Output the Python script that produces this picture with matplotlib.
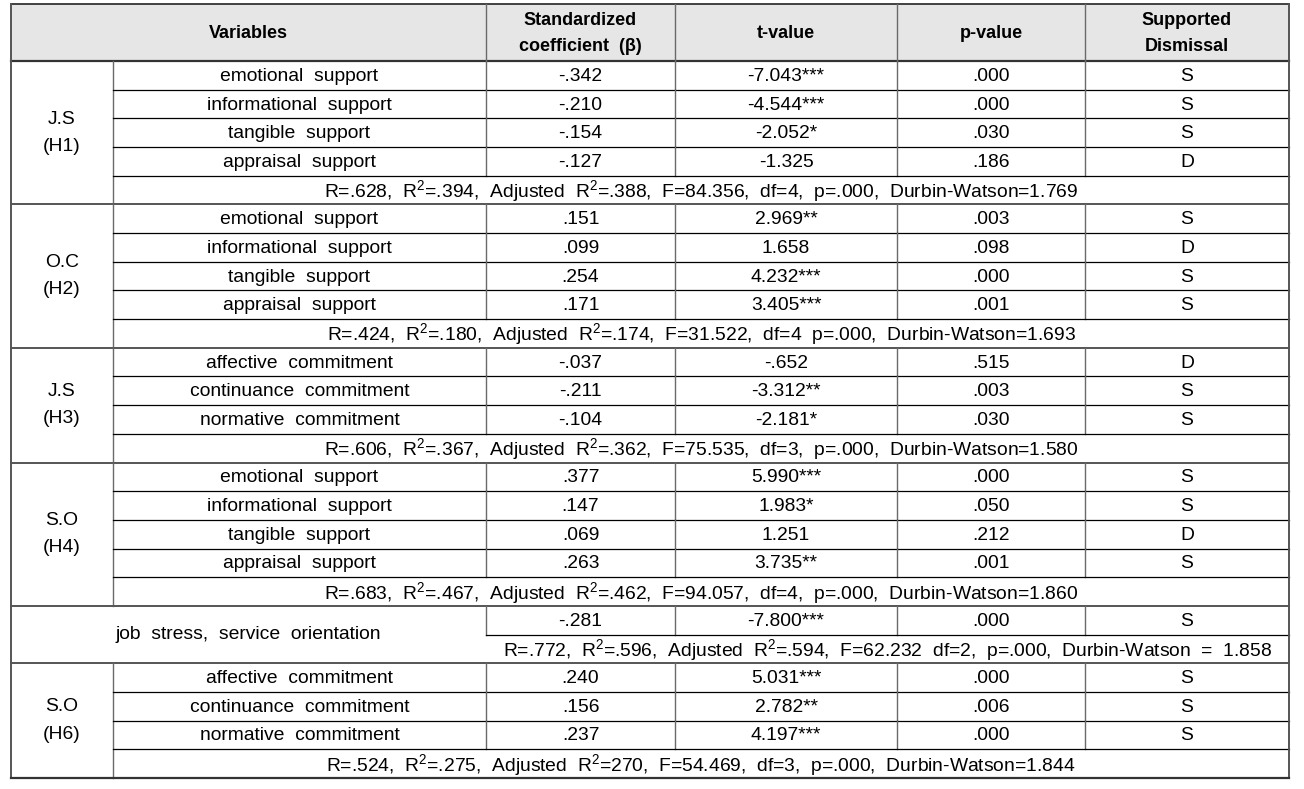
import matplotlib
matplotlib.use("Agg")
import matplotlib.pyplot as plt
from matplotlib.patches import Rectangle

plt.rcParams['font.family'] = ['Liberation Sans', 'DejaVu Sans']
plt.rcParams['mathtext.fontset'] = 'custom'
plt.rcParams['mathtext.rm'] = 'Liberation Sans'
plt.rcParams['mathtext.default'] = 'regular'

headers = ["Variables", "Standardized\ncoefficient  (β)", "t-value", "p-value",
           "Supported\nDismissal"]

group_labels = ["J.S\n(H1)", "O.C\n(H2)", "J.S\n(H3)", "S.O\n(H4)",
                "job  stress,  service  orientation", "S.O\n(H6)"]

variables = [
    ["emotional  support", "informational  support", "tangible  support", "appraisal  support"],
    ["emotional  support", "informational  support", "tangible  support", "appraisal  support"],
    ["affective  commitment", "continuance  commitment", "normative  commitment"],
    ["emotional  support", "informational  support", "tangible  support", "appraisal  support"],
    [""],
    ["affective  commitment", "continuance  commitment", "normative  commitment"],
]

coef = [
    ["-.342", "-.210", "-.154", "-.127"],
    [".151", ".099", ".254", ".171"],
    ["-.037", "-.211", "-.104"],
    [".377", ".147", ".069", ".263"],
    ["-.281"],
    [".240", ".156", ".237"],
]

t_values = [
    ["-7.043***", "-4.544***", "-2.052*", "-1.325"],
    ["2.969**", "1.658", "4.232***", "3.405***"],
    ["-.652", "-3.312**", "-2.181*"],
    ["5.990***", "1.983*", "1.251", "3.735**"],
    ["-7.800***"],
    ["5.031***", "2.782**", "4.197***"],
]

p_values = [
    [".000", ".000", ".030", ".186"],
    [".003", ".098", ".000", ".001"],
    [".515", ".003", ".030"],
    [".000", ".050", ".212", ".001"],
    [".000"],
    [".000", ".006", ".000"],
]

decisions = [
    ["S", "S", "S", "D"],
    ["S", "D", "S", "S"],
    ["D", "S", "S"],
    ["S", "S", "D", "S"],
    ["S"],
    ["S", "S", "S"],
]

R2 = "R$^2$"
stats = [
    f"R=.628,  {R2}=.394,  Adjusted  {R2}=.388,  F=84.356,  df=4,  p=.000,  Durbin-Watson=1.769",
    f"R=.424,  {R2}=.180,  Adjusted  {R2}=.174,  F=31.522,  df=4  p=.000,  Durbin-Watson=1.693",
    f"R=.606,  {R2}=.367,  Adjusted  {R2}=.362,  F=75.535,  df=3,  p=.000,  Durbin-Watson=1.580",
    f"R=.683,  {R2}=.467,  Adjusted  {R2}=.462,  F=94.057,  df=4,  p=.000,  Durbin-Watson=1.860",
    f"R=.772,  {R2}=.596,  Adjusted  {R2}=.594,  F=62.232  df=2,  p=.000,  Durbin-Watson  =  1.858",
    f"R=.524,  {R2}=.275,  Adjusted  {R2}=270,  F=54.469,  df=3,  p=.000,  Durbin-Watson=1.844",
]

# layout (pixels)
W, H = 1304, 789
cols = [11, 113, 486, 675, 897, 1085, 1289]
top, head_bot, bottom = 4, 61, 778
n_rows = sum(len(v) + 1 for v in variables)
rh = (bottom - head_bot) / n_rows
FS = 13.9
HFS = 13
GRID = '#6a6a6a'

fig = plt.figure(figsize=(W / 100, H / 100), dpi=100)
ax = fig.add_axes([0, 0, 1, 1])
ax.set_xlim(0, W)
ax.set_ylim(H, 0)
ax.axis('off')

# header
ax.add_patch(Rectangle((cols[0], top), cols[-1] - cols[0], head_bot - top,
                       facecolor='#e6e6e6', edgecolor='none', zorder=0))
hx = [(cols[0] + cols[2]) / 2] + [(cols[i] + cols[i + 1]) / 2 for i in range(2, 6)]
for x, lab in zip(hx, headers):
    ax.text(x, (top + head_bot) / 2 + 1, lab, ha='center', va='center', fontsize=HFS,
            fontweight='bold', linespacing=1.75)
ax.plot([cols[0], cols[-1]], [top, top], color='#333333', lw=1.3)
ax.plot([cols[0], cols[-1]], [head_bot, head_bot], color='#333333', lw=1.6)
for x in cols[2:-1]:
    ax.plot([x, x], [top, head_bot], color=GRID, lw=1)

row = 0
for g, label in enumerate(group_labels):
    g_top = head_bot + row * rh
    n = len(variables[g])
    g_bot = g_top + (n + 1) * rh
    special = variables[g] == [""]
    if special:
        ax.text((cols[0] + cols[2]) / 2, (g_top + g_bot) / 2, label, ha='center',
                va='center', fontsize=FS)
        x0 = cols[2]
    else:
        ax.text((cols[0] + cols[1]) / 2, (g_top + g_bot) / 2, label, ha='center',
                va='center', fontsize=FS, linespacing=1.8)
        ax.plot([cols[1], cols[1]], [g_top, g_bot], color=GRID, lw=1)
        x0 = cols[1]
    for i in range(n):
        y0 = g_top + i * rh
        yc = y0 + rh / 2 + 1
        vals = [variables[g][i], coef[g][i], t_values[g][i], p_values[g][i], decisions[g][i]]
        for c, v in enumerate(vals):
            if special and c == 0:
                continue
            ax.text((cols[c + 1] + cols[c + 2]) / 2, yc, v, ha='center', va='center',
                    fontsize=FS)
        for x in cols[2:-1]:
            ax.plot([x, x], [y0, y0 + rh], color=GRID, lw=1)
        ax.plot([x0, cols[-1]], [y0 + rh, y0 + rh], color='black', lw=0.9)
    ys = g_top + n * rh + rh / 2 + 1
    ax.text((x0 + cols[-1]) / 2, ys, stats[g], ha='center', va='center', fontsize=FS)
    ax.plot([cols[0], cols[-1]], [g_bot, g_bot], color='#555555', lw=1.4)
    row += n + 1

# outer border
ax.plot([cols[0], cols[0]], [top, bottom], color='#555555', lw=1.4)
ax.plot([cols[-1], cols[-1]], [top, bottom], color='#555555', lw=1.4)
ax.plot([cols[0], cols[-1]], [bottom, bottom], color='#333333', lw=1.6)

fig.savefig('out.png', dpi=100)
